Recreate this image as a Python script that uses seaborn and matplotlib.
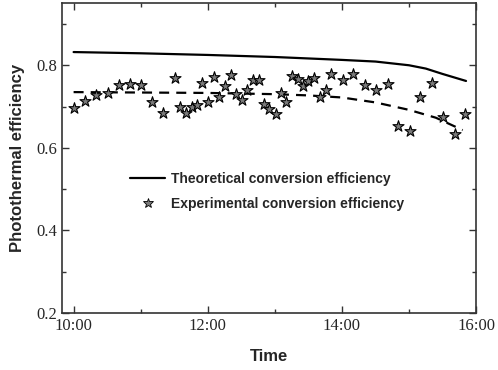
import numpy as np
import pandas as pd
import seaborn as sns
import matplotlib
matplotlib.use('Agg')
import matplotlib.pyplot as plt
from matplotlib.ticker import MultipleLocator, FuncFormatter

# theoretical curve (hours, efficiency)
theo_t = [10.0, 11.0, 12.0, 13.0, 14.0, 14.5, 15.0, 15.25, 15.5, 15.85]
theo_v = [0.832, 0.829, 0.825, 0.820, 0.813, 0.809, 0.800, 0.792, 0.779, 0.762]

# fitted experimental trend (dashed)
fit_t = [10.0, 11.0, 12.0, 13.0, 13.5, 14.0, 14.5, 15.0, 15.4, 15.8]
fit_v = [0.735, 0.734, 0.733, 0.730, 0.727, 0.722, 0.710, 0.692, 0.673, 0.643]

# measured points
exp_t = [10.01, 10.17, 10.34, 10.51, 10.68, 10.84, 11.0, 11.17, 11.34, 11.51,
         11.58, 11.67, 11.76, 11.84, 11.91, 12.0, 12.09, 12.17, 12.25, 12.34,
         12.42, 12.51, 12.59, 12.67, 12.76, 12.84, 12.92, 13.01, 13.09, 13.17,
         13.25, 13.34, 13.42, 13.50, 13.59, 13.67, 13.76, 13.83, 14.01, 14.17,
         14.34, 14.51, 14.68, 14.84, 15.01, 15.17, 15.35, 15.51, 15.68, 15.84]
exp_v = [0.697, 0.714, 0.728, 0.734, 0.752, 0.755, 0.752, 0.710, 0.684, 0.769,
         0.698, 0.685, 0.699, 0.703, 0.757, 0.710, 0.772, 0.723, 0.750, 0.776,
         0.731, 0.715, 0.741, 0.765, 0.765, 0.706, 0.693, 0.681, 0.732, 0.710,
         0.773, 0.767, 0.751, 0.761, 0.770, 0.723, 0.741, 0.778, 0.764, 0.778,
         0.752, 0.741, 0.755, 0.652, 0.641, 0.722, 0.758, 0.675, 0.633, 0.681]

sns.set_style('ticks')
plt.rcParams['font.family'] = ['Liberation Serif', 'DejaVu Serif']
plt.rcParams['xtick.direction'] = 'in'
plt.rcParams['ytick.direction'] = 'in'

fig = plt.figure(figsize=(4.98, 3.70), dpi=100)
ax = fig.add_axes([0.1245, 0.154, 0.8315, 0.837])

sns.lineplot(x=theo_t, y=theo_v, ax=ax, color='black', linewidth=1.6)
sns.lineplot(x=fit_t, y=fit_v, ax=ax, color='black', linewidth=1.6,
             linestyle=(0, (4.5, 3.2)))
sns.scatterplot(x=exp_t, y=exp_v, ax=ax, marker='*', s=70, color='#7a7a7a',
                edgecolor='black', linewidth=0.8, zorder=3)

ax.set_xlim(9.827, 16.0)
ax.set_ylim(0.2, 0.95)
ax.xaxis.set_major_locator(MultipleLocator(2))
ax.xaxis.set_minor_locator(MultipleLocator(1))
ax.yaxis.set_major_locator(MultipleLocator(0.2))
ax.yaxis.set_minor_locator(MultipleLocator(0.1))
ax.xaxis.set_major_formatter(FuncFormatter(lambda v, p: '%d:00' % v))
ax.yaxis.set_major_formatter(FuncFormatter(lambda v, p: '%.1f' % v))
ax.tick_params(which='both', top=True, right=True, direction='in',
               labelsize=12, width=1, color='#333333')
ax.tick_params(which='major', length=5)
ax.tick_params(which='minor', length=3)
for sp in ax.spines.values():
    sp.set_linewidth(1.2)
    sp.set_color('#333333')

ax.set_xlabel('Time', fontsize=12, fontweight='bold',
              family=['Liberation Sans', 'DejaVu Sans'], labelpad=11)
ax.set_ylabel('Photothermal efficiency', fontsize=12, fontweight='bold',
              family=['Liberation Sans', 'DejaVu Sans'], labelpad=8)

h_line = plt.Line2D([], [], color='black', linewidth=1.6)
h_star = plt.Line2D([], [], marker='*', linestyle='none', markersize=7,
                    markerfacecolor='#7a7a7a', markeredgecolor='black',
                    markeredgewidth=0.6)
ax.legend([h_line, h_star],
          ['Theoretical conversion efficiency', 'Experimental conversion efficiency'],
          loc='upper left', bbox_to_anchor=(0.135, 0.497), frameon=False,
          handlelength=2.5, handletextpad=0.45, labelspacing=0.8,
          prop={'family': ['Liberation Sans', 'DejaVu Sans'], 'weight': 'bold', 'size': 10})

fig.savefig('out.png', dpi=100)
